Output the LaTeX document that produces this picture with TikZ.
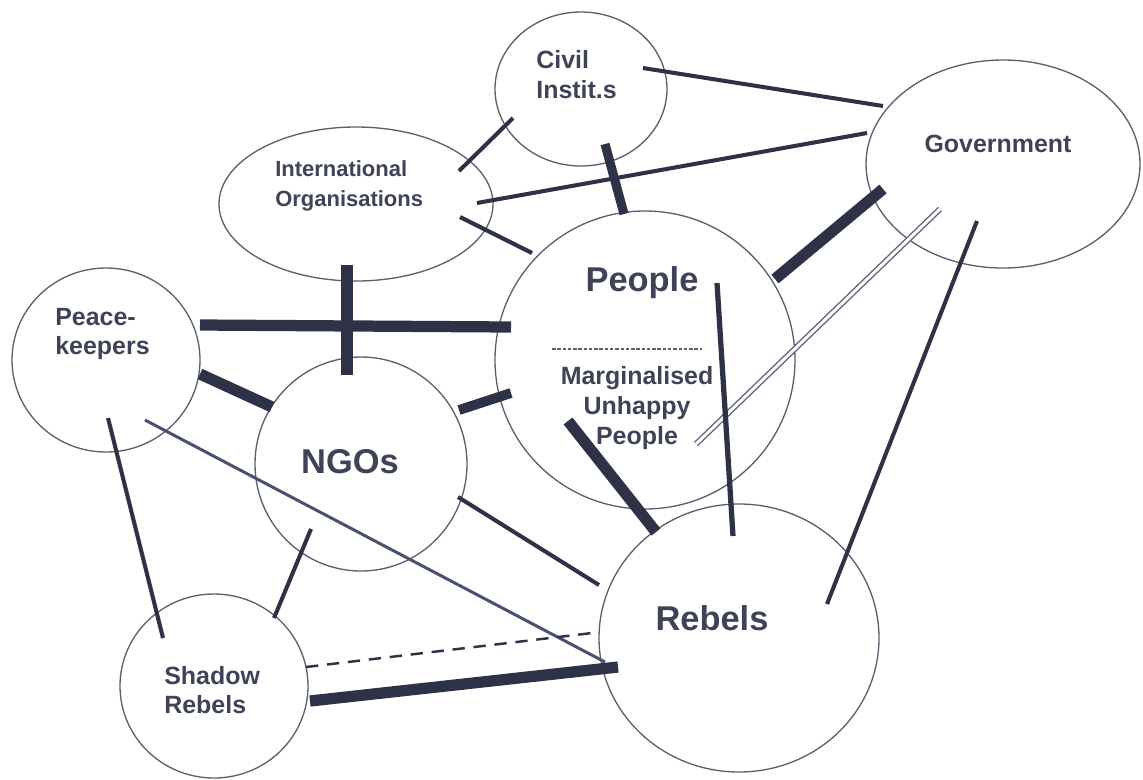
\documentclass[tikz,border=0pt]{standalone}
\usepackage{fontspec}
\setmainfont{Liberation Sans}
\usetikzlibrary{shapes.geometric}
\definecolor{ink}{HTML}{2E3246}
\definecolor{inklight}{HTML}{4A5070}
\definecolor{txt}{HTML}{3E4358}
\definecolor{rim}{HTML}{5A5E6E}
\definecolor{dbl}{HTML}{5F647C}
\newcommand{\px}{0.02cm}
\begin{document}
\begin{tikzpicture}[x=0.02cm, y=-0.02cm,
  blob/.style={ellipse, draw=rim, line width=0.75pt, inner sep=0pt},
  lbl/.style={text=txt, inner sep=0pt, font=\bfseries\fontsize{14.2}{17}\selectfont},
  smalllbl/.style={text=txt, inner sep=0pt, font=\bfseries\fontsize{12.5}{17}\selectfont},
  biglbl/.style={text=txt, inner sep=0pt, font=\bfseries\fontsize{19.6}{23}\selectfont},
  link/.style={draw=ink, line width=2.3pt},
  thinlink/.style={draw=inklight, line width=1.7pt},
  heavy/.style={draw=ink, line width=6.4pt},
  roughlink/.style={draw=ink, line width=3pt},
  dashlink/.style={draw=ink, line width=1.4pt, dash pattern=on 7pt off 5pt},
  twolink/.style={draw=dbl, line width=0.8pt, double=white, double distance=1.7pt},
  divider/.style={draw=rim, line width=0.6pt, dash pattern=on 2pt off 1pt}]
\useasboundingbox (0,0) rectangle (1143,779);

% ---- actors ----
\node[blob, minimum width=172*\px, minimum height=154*\px] (civ)  at (581,89)  {};
\node[blob, minimum width=274*\px, minimum height=208*\px] (gov)  at (1003,164) {};
\node[blob, minimum width=274*\px, minimum height=154*\px] (intl) at (356,204) {};
\node[blob, minimum width=300*\px, minimum height=298*\px] (ppl)  at (645,360) {};
\node[blob, minimum width=188*\px, minimum height=184*\px] (pk)   at (106,360) {};
\node[blob, minimum width=212*\px, minimum height=214*\px] (ngo)  at (361,464) {};
\node[blob, minimum width=280*\px, minimum height=268*\px] (reb)  at (739,638) {};
\node[blob, minimum width=188*\px, minimum height=184*\px] (sh)   at (214,686) {};

% ---- connector end points ----
\coordinate (civ-gov-a) at (643,68);   \coordinate (civ-gov-b) at (883,106);
\coordinate (int-civ-a) at (459,171);  \coordinate (int-civ-b) at (513,118);
\coordinate (int-gov-a) at (477,203);  \coordinate (int-gov-b) at (867,133);
\coordinate (civ-ppl-a) at (605,144);  \coordinate (civ-ppl-b) at (624,214);
\coordinate (int-ppl-a) at (460,217);  \coordinate (int-ppl-b) at (532,253);
\coordinate (gov-ppl-a) at (883,189);  \coordinate (gov-ppl-b) at (775,279);
\coordinate (gov-mup-a) at (940,209);  \coordinate (gov-mup-b) at (696,444);
\coordinate (gov-reb-a) at (977,221);  \coordinate (gov-reb-b) at (827,604);
\coordinate (pk-ppl-a)  at (200,325);  \coordinate (pk-ppl-b)  at (511,327);
\coordinate (int-ngo-a) at (347,265);  \coordinate (int-ngo-b) at (347,375);
\coordinate (pk-ngo-a)  at (200,374);  \coordinate (pk-ngo-b)  at (272,407);
\coordinate (ngo-ppl-a) at (459,410);  \coordinate (ngo-ppl-b) at (511,393);
\coordinate (ppl-reb-a) at (568,421);  \coordinate (ppl-reb-b) at (656,532);
\coordinate (mup-reb-a) at (717,283);  \coordinate (mup-reb-b) at (733,536);
\coordinate (ngo-reb-a) at (458,497);  \coordinate (ngo-reb-b) at (599,585);
\coordinate (pk-reb-a)  at (145,420);  \coordinate (pk-reb-b)  at (605,662);
\coordinate (pk-sh-a)   at (108,418);  \coordinate (pk-sh-b)   at (163,638);
\coordinate (ngo-sh-a)  at (311,529);  \coordinate (ngo-sh-b)  at (274,618);
\coordinate (sh-rebd-a) at (306,667);  \coordinate (sh-rebd-b) at (592,633);
\coordinate (sh-reb-a)  at (310,701);  \coordinate (sh-reb-b)  at (618,667);

% ---- connectors ----
\draw[link]      (civ-gov-a) -- (civ-gov-b);
\draw[link]      (int-civ-a) -- (int-civ-b);
\draw[link]      (int-gov-a) -- (int-gov-b);
\draw[heavy, line width=5.2pt] (civ-ppl-a) -- (civ-ppl-b);
\draw[link]      (int-ppl-a) -- (int-ppl-b);
\draw[heavy]     (gov-ppl-a) -- (gov-ppl-b);
\draw[twolink]   (gov-mup-a) -- (gov-mup-b);
\draw[link]      (gov-reb-a) -- (gov-reb-b);
\draw[heavy]     (pk-ppl-a) -- (pk-ppl-b);
\draw[heavy]     (int-ngo-a) -- (int-ngo-b);
\draw[heavy]     (pk-ngo-a) -- (pk-ngo-b);
\draw[heavy, line width=5.6pt] (ngo-ppl-a) -- (ngo-ppl-b);
\draw[heavy]     (ppl-reb-a) -- (ppl-reb-b);
\draw[roughlink] (mup-reb-a) -- (mup-reb-b);
\draw[link]      (ngo-reb-a) -- (ngo-reb-b);
\draw[thinlink]  (pk-reb-a) -- (pk-reb-b);
\draw[link]      (pk-sh-a) -- (pk-sh-b);
\draw[link]      (ngo-sh-a) -- (ngo-sh-b);
\draw[dashlink]  (sh-rebd-a) -- (sh-rebd-b);
\draw[heavy]     (sh-reb-a) -- (sh-reb-b);

% ---- labels ----
\node[lbl, anchor=west, align=left] (civT) at (536,75) {Civil\\Instit.s};
\node[lbl] (govT) at (998,144) {Government};
\node[smalllbl, anchor=west, align=left] (intlT) at (275,186) {International\\Organisations};
\node[biglbl] (pplT) at (642,283) {People};
\coordinate (divA) at (552,349); \coordinate (divB) at (702,349);
\draw[divider] (divA) -- (divB);
\node[lbl, align=center] (mupT) at (637,408) {Marginalised\\Unhappy\\People};
\node[lbl, anchor=west, align=left] (pkT) at (55,334) {Peace-\\keepers};
\node[biglbl] (ngoT) at (350,462) {NGOs};
\node[biglbl] (rebT) at (712,618) {Rebels};
\node[lbl, anchor=west, align=left] (shT) at (164,690) {Shadow\\Rebels};
\end{tikzpicture}
\end{document}
